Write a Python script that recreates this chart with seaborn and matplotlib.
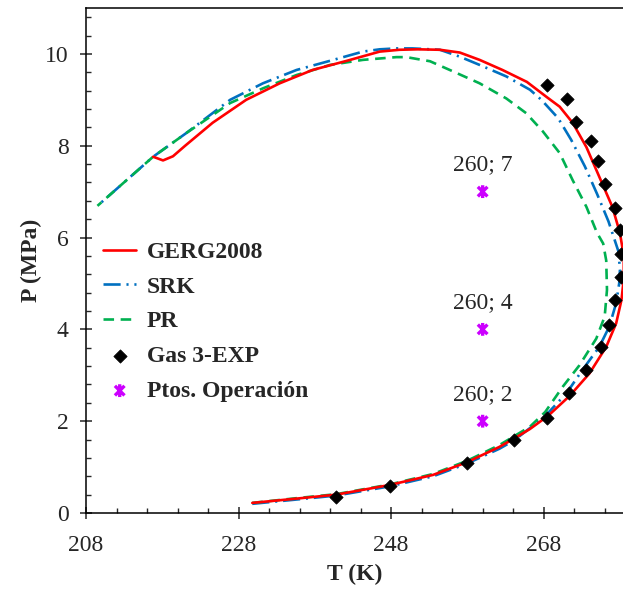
import numpy as np
import pandas as pd
import matplotlib
matplotlib.use("Agg")
import matplotlib.pyplot as plt
from matplotlib.path import Path
from matplotlib.ticker import MultipleLocator
import seaborn as sns

# ---------------- data ----------------
gerg_T = [229.8, 236.0, 240.8, 247.8, 253.5, 258.0, 262.2, 264.1, 266.2, 268.6,
          271.4, 274.0, 276.2, 277.5, 278.2, 278.5, 278.5, 278.0, 277.0, 275.3,
          273.6, 271.8, 270.1, 268.4, 265.8, 262.6, 259.6, 257.0, 254.4, 251.5,
          249.1, 246.5, 242.2, 237.7, 233.4, 229.0, 224.6, 221.0, 219.4, 218.1,
          216.8]
gerg_P = [0.22, 0.32, 0.40, 0.61, 0.83, 1.11, 1.44, 1.62, 1.83, 2.12,
          2.55, 3.04, 3.62, 4.13, 4.64, 5.10, 5.60, 6.10, 6.67, 7.32,
          7.97, 8.50, 8.85, 9.06, 9.39, 9.65, 9.87, 10.03, 10.09, 10.10,
          10.09, 10.05, 9.85, 9.65, 9.36, 9.00, 8.50, 8.00, 7.77, 7.68,
          7.76]

srk_T = [229.8, 236.0, 240.8, 247.8, 253.5, 258.0, 262.2, 264.1, 266.2, 267.9,
         271.0, 273.1, 275.3, 276.6, 277.5, 277.9, 278.0, 277.8, 277.2, 276.5,
         275.0, 273.4, 271.6, 269.9, 267.7, 266.2, 263.1, 259.6, 257.0, 254.4,
         250.8, 248.7, 246.5, 244.3, 240.0, 235.6, 231.2, 226.9, 221.1, 216.8,
         209.5]
srk_P = [0.20, 0.30, 0.38, 0.58, 0.80, 1.08, 1.40, 1.58, 1.85, 2.06,
         2.61, 3.12, 3.62, 4.06, 4.57, 5.00, 5.30, 5.70, 6.00, 6.35,
         6.95, 7.55, 8.13, 8.60, 9.00, 9.22, 9.51, 9.76, 9.94, 10.09,
         10.12, 10.12, 10.10, 10.05, 9.85, 9.65, 9.36, 9.00, 8.27, 7.76,
         6.69]

pr_T = [229.8, 236.0, 240.8, 247.8, 253.5, 258.0, 262.2, 264.0, 266.2, 268.2,
        270.5, 272.7, 274.9, 276.0, 276.3, 276.2, 275.8, 275.0, 273.6, 271.8,
        270.1, 267.9, 265.7, 263.1, 259.6, 256.1, 253.1, 250.0, 248.7, 246.5,
        244.3, 240.0, 235.6, 231.2, 226.9, 221.1, 216.8, 209.5]
pr_P = [0.22, 0.33, 0.41, 0.62, 0.85, 1.14, 1.48, 1.66, 1.88, 2.20,
        2.75, 3.22, 3.80, 4.28, 4.86, 5.50, 5.87, 6.10, 6.67, 7.25,
        7.84, 8.31, 8.71, 9.03, 9.36, 9.62, 9.84, 9.93, 9.93, 9.90,
        9.87, 9.76, 9.54, 9.25, 8.93, 8.27, 7.76, 6.69]

exp_T = [240.8, 247.8, 258.0, 264.1, 268.4, 271.3, 273.5, 275.5, 276.5, 277.3,
         278.1, 278.2, 278.0, 277.4, 276.0, 275.1, 274.2, 272.3, 271.1, 268.5]
exp_P = [0.35, 0.59, 1.09, 1.59, 2.07, 2.61, 3.12, 3.62, 4.10, 4.64,
         5.14, 5.64, 6.17, 6.64, 7.17, 7.67, 8.10, 8.52, 9.02, 9.32]

op_T = [260, 260, 260]
op_P = [7, 4, 2]

x_ticks = [208, 228, 248, 268]
y_ticks = [0, 2, 4, 6, 8, 10]

# ---------------- style ----------------
sns.set_style("ticks")
plt.rcParams["font.family"] = ["Liberation Serif", "DejaVu Serif"]
plt.rcParams["font.size"] = 17

RED = "#FF0000"
BLUE = "#0070C0"
GREEN = "#00B050"
MAG = "#CC00FF"

fig = plt.figure(figsize=(6.23, 5.89), dpi=100)
ax = fig.add_axes([86 / 623, 76 / 589, 1 - 86 / 623, (589 - 8 - 76) / 589])

gerg = pd.DataFrame({"T": gerg_T, "P": gerg_P})
srk = pd.DataFrame({"T": srk_T, "P": srk_P})
pr = pd.DataFrame({"T": pr_T, "P": pr_P})
exp = pd.DataFrame({"T": exp_T, "P": exp_P})
ops = pd.DataFrame({"T": op_T, "P": op_P})

sns.lineplot(data=gerg, x="T", y="P", sort=False, estimator=None, color=RED,
             lw=1.9, label="GERG2008", ax=ax, zorder=3)
sns.lineplot(data=srk, x="T", y="P", sort=False, estimator=None, color=BLUE,
             lw=1.9, linestyle=(0, (6.5, 2.2, 0.8, 2.2)), label="SRK", ax=ax, zorder=2)
sns.lineplot(data=pr, x="T", y="P", sort=False, estimator=None, color=GREEN,
             lw=1.9, linestyle=(0, (4, 2.5)), label="PR", ax=ax, zorder=2)

sns.scatterplot(data=exp, x="T", y="P", marker="D", s=46, color="black",
                edgecolor="black", linewidth=0.5, label="Gas 3-EXP", ax=ax, zorder=5)

star = Path([(0, -1), (0, 1), (-0.75, -0.75), (0.75, 0.75), (-0.75, 0.75), (0.75, -0.75)],
            [Path.MOVETO, Path.LINETO, Path.MOVETO, Path.LINETO, Path.MOVETO, Path.LINETO])
sns.scatterplot(data=ops, x="T", y="P", marker=star, s=85, facecolor="none",
                edgecolor=MAG, linewidth=2.4, label="Ptos. Operación", ax=ax, zorder=5)

for t, p in zip(op_T, op_P):
    ax.text(t, p + 0.58, f"{t}; {p}", ha="center", va="center", fontsize=17)

ax.set_xlim(208, 278.4)
ax.set_ylim(0, 11)
ax.set_xticks(x_ticks)
ax.set_yticks(y_ticks)
ax.xaxis.set_minor_locator(MultipleLocator(4))
ax.yaxis.set_minor_locator(MultipleLocator(0.4))
ax.tick_params(which="major", direction="inout", length=9, width=1.1, pad=8, labelsize=17)
ax.tick_params(which="minor", direction="in", length=3.8, width=1.0)
ax.tick_params(axis="x", which="major", pad=11)
for s in ["left", "bottom", "top"]:
    ax.spines[s].set_linewidth(1.1)
    ax.spines[s].set_color("black")
ax.spines["right"].set_visible(False)

ax.set_xlabel("T (K)", fontweight="bold", fontsize=17, labelpad=6)
ax.set_ylabel("P (MPa)", fontweight="bold", fontsize=17, labelpad=2)

leg = ax.legend(loc="upper left", bbox_to_anchor=(0.032, 0.538), frameon=False,
                prop={"weight": "bold", "size": 17}, handlelength=1.4,
                handletextpad=0.45, labelspacing=0.56, borderpad=0, borderaxespad=0)

fig.savefig("out.png", dpi=100)
